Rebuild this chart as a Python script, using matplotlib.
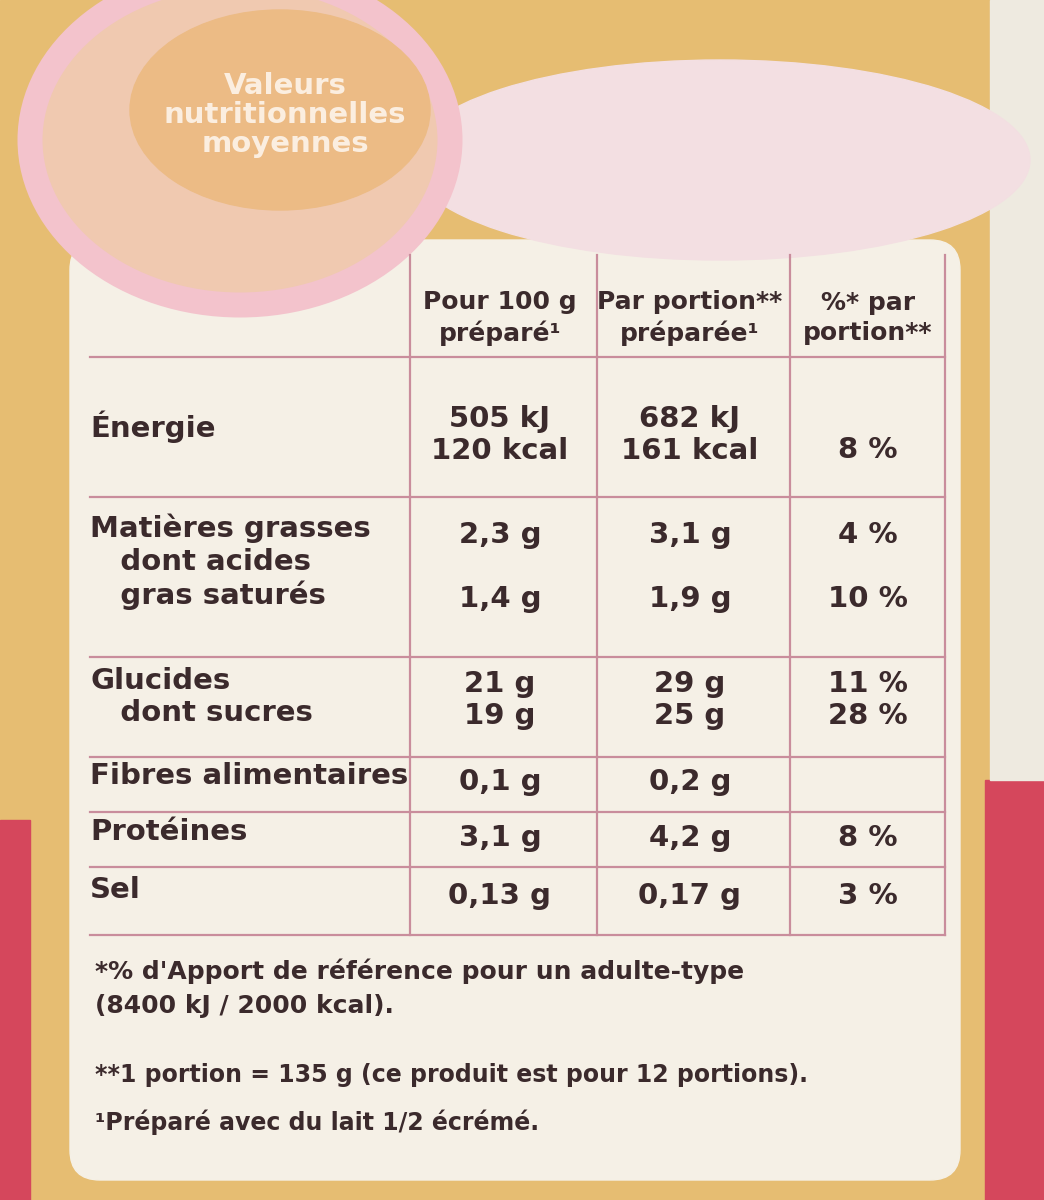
import matplotlib
matplotlib.use("Agg")
import matplotlib.pyplot as plt
from matplotlib.patches import Rectangle, Ellipse, FancyBboxPatch

headers = ["Pour 100 g\npréparé¹", "Par portion**\npréparée¹", "%* par\nportion**"]
labels = ["Énergie", "Matières grasses\n   dont acides\n   gras saturés", "Glucides\n   dont sucres",
          "Fibres alimentaires", "Protéines", "Sel"]
per100 = ["505 kJ\n120 kcal", "2,3 g\n\n1,4 g", "21 g\n19 g", "0,1 g", "3,1 g", "0,13 g"]
perportion = ["682 kJ\n161 kcal", "3,1 g\n\n1,9 g", "29 g\n25 g", "0,2 g", "4,2 g", "0,17 g"]
percent = ["8 %", "4 %\n\n10 %", "11 %\n28 %", "", "8 %", "3 %"]
footnotes = ["*% d'Apport de référence pour un adulte-type\n(8400 kJ / 2000 kcal).",
             "**1 portion = 135 g (ce produit est pour 12 portions).",
             "¹Préparé avec du lait 1/2 écrémé."]
title = "Valeurs\nnutritionnelles\nmoyennes"

FAM = ["DejaVu Sans"]
ink = "#3b2a2c"

fig = plt.figure(figsize=(10.44, 12), dpi=100)
ax = fig.add_axes([0, 0, 1, 1])
ax.set_xlim(0, 1044); ax.set_ylim(1200, 0); ax.axis("off")

ax.add_patch(Rectangle((0, 0), 1044, 1200, color="#e6bd72"))
ax.add_patch(Rectangle((985, 780), 60, 420, color="#d5475c"))
ax.add_patch(Rectangle((0, 820), 30, 380, color="#d5475c"))
ax.add_patch(Rectangle((990, 0), 54, 780, color="#eeeae0"))
ax.add_patch(FancyBboxPatch((70, 240), 890, 940, boxstyle="round,pad=0,rounding_size=30",
                            color="#f5f0e6"))
ax.add_patch(Ellipse((720, 160), 620, 200, color="#f3dfe2"))
ax.add_patch(Ellipse((240, 140), 420, 330, color="#f0c9b0", ec="#f3c3cc", lw=18))
ax.add_patch(Ellipse((280, 110), 300, 200, color="#ecbb85"))
ax.text(285, 115, title, ha="center", va="center", fontsize=21, fontweight="bold",
        color="#fbeee0", family=FAM, linespacing=1.05)

ys = [357, 497, 657, 757, 812, 867, 935]
xs = [410, 597, 790, 945]
pink = "#c98d9c"
for y in ys:
    ax.plot([90, 945], [y, y], color=pink, lw=1.6)
for x in xs:
    ax.plot([x, x], [255, 935], color=pink, lw=1.6)

fs = 21
cx = [500, 690, 868]
for x, h in zip(cx, headers):
    ax.text(x, 318, h, ha="center", va="center", fontsize=18, fontweight="bold", color=ink,
            family=FAM, linespacing=1.3)
rowc = [427, 562, 697, 776, 832, 890]
valy = [435, 567, 700, 782, 838, 896]
for i, yc in enumerate(rowc):
    ax.text(90, yc, labels[i], ha="left", va="center", fontsize=fs,
            fontweight="bold", color=ink, family=FAM, linespacing=1.2)
    for j, (x, col) in enumerate(zip(cx, [per100, perportion, percent])):
        yy = valy[i] + (15 if (i == 0 and j == 2) else 0)
        ax.text(x, yy, col[i], ha="center", va="center", fontsize=fs,
                fontweight="bold", color=ink, family=FAM, linespacing=1.2)

ax.text(95, 988, footnotes[0], ha="left", va="center", fontsize=18, fontweight="bold",
        color=ink, family=FAM, linespacing=1.5)
ax.text(95, 1075, footnotes[1], ha="left", va="center", fontsize=17, fontweight="bold",
        color=ink, family=FAM)
ax.text(95, 1122, footnotes[2], ha="left", va="center", fontsize=17, fontweight="bold",
        color=ink, family=FAM)

fig.savefig("out.png", dpi=100)
